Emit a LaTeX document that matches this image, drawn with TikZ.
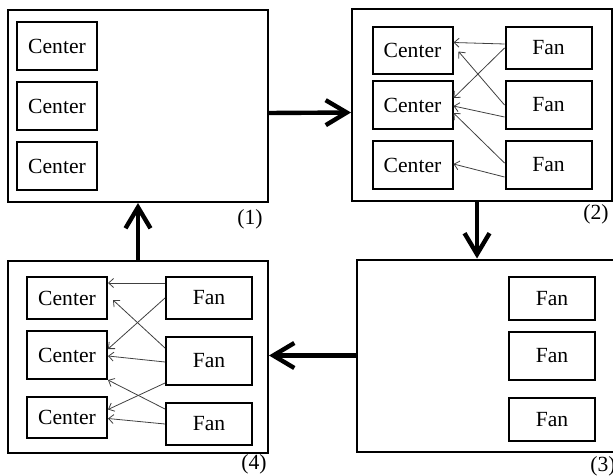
\documentclass[tikz,border=0pt]{standalone}
\usepackage{fontspec}
\setmainfont{Liberation Serif}
\usetikzlibrary{arrows.meta, calc}
\tikzstyle{every node} = [font=\fontsize{10.8}{12}\selectfont]
\tikzstyle{panel} = [draw, rectangle, line width=1pt, minimum width=130pt,
   minimum height=96pt, inner sep=0]
\tikzstyle{centerbox} = [draw, rectangle, line width=1pt, minimum width=40pt,
   minimum height=24pt, inner sep=0]
\tikzstyle{fanbox} = [draw, rectangle, line width=1pt, minimum width=43pt,
   minimum height=24pt, inner sep=0]
\tikzstyle{bigArrow} = [line width=2.2pt, -{Straight Barb[length=10.5pt,width=12.5pt]}]
\tikzstyle{thinArrow} = [black!75, line width=0.4pt,
   -{Straight Barb[length=2.5pt,width=4.5pt]}]

\begin{document}
\begin{tikzpicture}[x=0.5pt,y=-0.5pt]
  \path[use as bounding box, clip] (0,0) rectangle (613,475);

  % (1)
  \node[panel] (p1) at (138,106) {};
  \node[centerbox] (a1) at (57,46) {Center};
  \node[centerbox] (a2) at (57,106) {Center};
  \node[centerbox] (a3) at (57,166) {Center};
  \node (l1) at (250,219) {(1)};

  % (2)
  \node[panel] (p2) at (482,105.5) {};
  \node[centerbox, minimum height=23.5pt] (b1) at (412.5,50.5) {Center};
  \node[centerbox] (b2) at (412.5,105) {Center};
  \node[centerbox] (b3) at (412.5,165) {Center};
  \node[fanbox, minimum height=21pt] (g1) at (548.5,48) {Fan};
  \node[fanbox] (g2) at (548.5,105) {Fan};
  \node[fanbox] (g3) at (548.5,165) {Fan};
  \node (l2) at (596,214) {(2)};

  % (3)
  \node[panel] (p3) at (487,355.5) {};
  \node[fanbox, minimum height=21.5pt] (h1) at (552,298.5) {Fan};
  \node[fanbox] (h2) at (552,356) {Fan};
  \node[fanbox, minimum height=21.5pt] (h3) at (552,419.5) {Fan};
  \node (l3) at (603,466) {(3)};

  % (4)
  \node[panel] (p4) at (138,357) {};
  \node[centerbox, minimum height=21pt] (d1) at (67,298) {Center};
  \node[centerbox] (d2) at (67,355) {Center};
  \node[centerbox, minimum height=20.5pt] (d3) at (67,417.5) {Center};
  \node[fanbox, minimum height=21pt] (e1) at (209,298) {Fan};
  \node[fanbox] (e2) at (209,361) {Fan};
  \node[fanbox, minimum height=21pt] (e3) at (209,424) {Fan};
  \node (l4) at (254,464) {(4)};

  % cycle between the steps
  \draw[bigArrow] ([yshift=-3.5pt]p1.east) -- ([yshift=-3.5pt]p2.west);
  \draw[bigArrow] ([xshift=-2.5pt]p2.south) -- ([xshift=-5pt]p3.north);
  \draw[bigArrow] (p3.west) -- (p3.west -| p4.east);
  \draw[bigArrow] (p4.north) -- (p1.south);

  % fans pointing at centers in (2)
  \draw[thinArrow] ($(g1.west)+(0,-4)$) -- ($(b1.east)+(0,-8)$);
  \draw[thinArrow] (g1.west) -- ($(b2.east)+(0,-7)$);
  \draw[thinArrow] (g2.west) -- ($(b1.east)+(5,1)$);
  \draw[thinArrow] ($(g2.west)+(0,12)$) -- ($(b2.east)+(0,1)$);
  \draw[thinArrow] ($(g3.west)+(0,-2)$) -- ($(b2.east)+(0,8)$);
  \draw[thinArrow] ($(g3.west)+(0,12)$) -- ($(b3.east)+(0,-1)$);

  % fans pointing at centers in (4)
  \draw[thinArrow] ($(e1.west)+(0,-15)$) -- ($(d1.east)+(0,-15)$);
  \draw[thinArrow] (e1.west) -- ($(d2.east)+(0,-6)$);
  \draw[thinArrow] ($(e2.west)+(0,-13)$) -- ($(d1.east)+(5,2)$);
  \draw[thinArrow] ($(e2.west)+(0,1)$) -- ($(d2.east)+(0,1)$);
  \draw[thinArrow] ($(e2.west)+(0,22)$) -- ($(d3.east)+(0,-8)$);
  \draw[thinArrow] ($(e3.west)+(0,-15)$) -- ($(d2.east)+(0,25)$);
  \draw[thinArrow] (e3.west) -- ($(d3.east)+(0,1)$);
\end{tikzpicture}
\end{document}
